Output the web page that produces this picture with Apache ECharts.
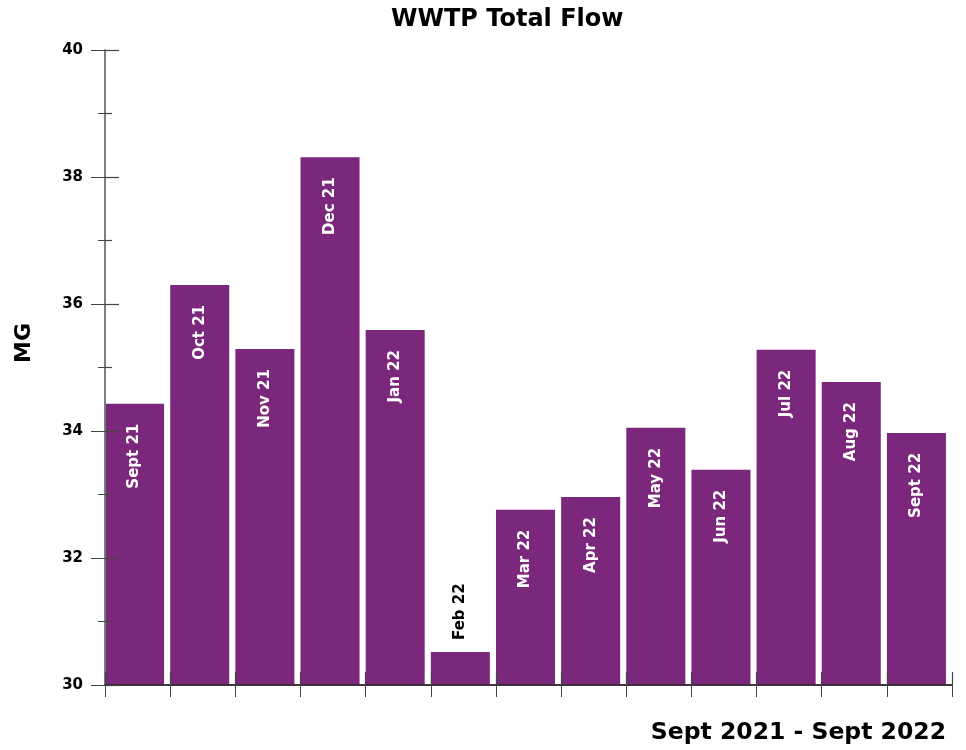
<!DOCTYPE html>
<html>
<head>
<meta charset="utf-8">
<title>WWTP Total Flow</title>
<script src="https://cdn.jsdelivr.net/npm/echarts@6/dist/echarts.min.js"></script>
<style>
  html, body { margin: 0; padding: 0; background: #fff; }
  #chart { width: 966px; height: 750px; }
</style>
</head>
<body>
<div id="chart"></div>
<script>
var months = ["Sept 21", "Oct 21", "Nov 21", "Dec 21", "Jan 22", "Feb 22", "Mar 22",
  "Apr 22", "May 22", "Jun 22", "Jul 22", "Aug 22", "Sept 22"];
var flowMG = [34.43, 36.3, 35.29, 38.31, 35.59, 30.52, 32.76, 32.96, 34.05, 33.39, 35.28, 34.77, 33.97];
var yTicks = [30, 32, 34, 36, 38, 40];

var chart = echarts.init(document.getElementById("chart"));
var font = "'DejaVu Sans', 'Liberation Sans', sans-serif";
var purple = "#7b287c";
var tickColor = "#444";

var data = flowMG.map(function(v, i) {
  var item = { value: v };
  // the short bar gets its label above, in black
  if (v < 31) {
    item.label = {
      position: "top",
      align: "left",
      verticalAlign: "middle",
      distance: 12,
      color: "#000"
    };
  }
  return item;
});

var yBase = {
  type: "value",
  min: yTicks[0],
  max: yTicks[yTicks.length - 1],
  interval: 2,
  splitLine: { show: false },
  axisLabel: { show: false },
  axisLine: { show: false },
  axisTick: { show: false }
};

var chartOption = {
  backgroundColor: "#fff",
  title: {
    text: "WWTP Total Flow",
    left: 386,
    top: 3,
    textStyle: { fontFamily: font, fontWeight: "bold", fontSize: 24, color: "#000" }
  },
  // grid 0: visible axes with outer ticks
  // grid 1: the bars (shifted so each bar sits at the left of its category)
  // grid 2: same box as grid 0, only the inner half of the ticks
  grid: [
    { left: 105, right: 14, top: 50, bottom: 65 },
    { left: 102, right: 17, top: 50, bottom: 65 },
    { left: 105, right: 14, top: 50, bottom: 65 }
  ],
  xAxis: [
    {
      type: "category",
      gridIndex: 0,
      zlevel: 2,
      z: 10,
      data: months,
      axisLine: { lineStyle: { color: "#3a2a3a", width: 1.5 } },
      axisTick: { show: true, length: 12, lineStyle: { color: tickColor } },
      axisLabel: { show: false }
    },
    {
      type: "category",
      gridIndex: 1,
      data: months,
      show: false
    },
    {
      type: "category",
      gridIndex: 2,
      zlevel: 2,
      z: 10,
      data: months,
      axisLine: { show: true, lineStyle: { color: "#3a2a3a", width: 1.5 } },
      axisTick: { show: true, inside: true, length: 13, lineStyle: { color: tickColor, width: 1.2 } },
      axisLabel: { show: false }
    }
  ],
  yAxis: [
    Object.assign({}, yBase, {
      gridIndex: 0,
      zlevel: 2,
      z: 10,
      axisLine: { show: true, lineStyle: { color: "#777", width: 1.5 } },
      axisTick: { show: true, length: 14, lineStyle: { color: tickColor } },
      minorTick: { show: true, splitNumber: 2, length: 7, lineStyle: { color: tickColor } },
      axisLabel: {
        margin: 22,
        fontFamily: font,
        fontWeight: "bold",
        fontSize: 15,
        color: "#000"
      }
    }),
    Object.assign({}, yBase, { gridIndex: 1, show: false }),
    Object.assign({}, yBase, {
      gridIndex: 2,
      zlevel: 2,
      z: 10,
      axisLine: { show: true, lineStyle: { color: "#777", width: 1.5 } },
      axisTick: { show: true, inside: true, length: 14, lineStyle: { color: tickColor, width: 1.2 } },
      minorTick: { show: true, splitNumber: 2, length: 7, lineStyle: { color: tickColor, width: 1.2 } }
    })
  ],
  graphic: [
    {
      type: "text",
      x: 13,
      y: 363,
      rotation: Math.PI / 2,
      style: {
        text: "MG",
        fontFamily: font,
        fontWeight: "bold",
        fontSize: 22,
        fill: "#000"
      }
    },
    {
      type: "text",
      right: 20,
      top: 721,
      style: {
        text: "Sept 2021 - Sept 2022",
        fontFamily: font,
        fontWeight: "bold",
        fontSize: 23.5,
        fill: "#000"
      }
    }
  ],
  series: [
    {
      type: "bar",
      xAxisIndex: 1,
      yAxisIndex: 1,
      z: 1,
      data: data,
      barCategoryGap: "9.4%",
      itemStyle: { color: purple },
      label: {
        show: true,
        formatter: "{b}",
        rotate: 90,
        position: "insideTop",
        align: "right",
        verticalAlign: "middle",
        distance: 20,
        fontFamily: font,
        fontWeight: "bold",
        fontSize: 15,
        color: "#fff"
      }
    }
  ]
};

chart.setOption(chartOption);
</script>
</body>
</html>
